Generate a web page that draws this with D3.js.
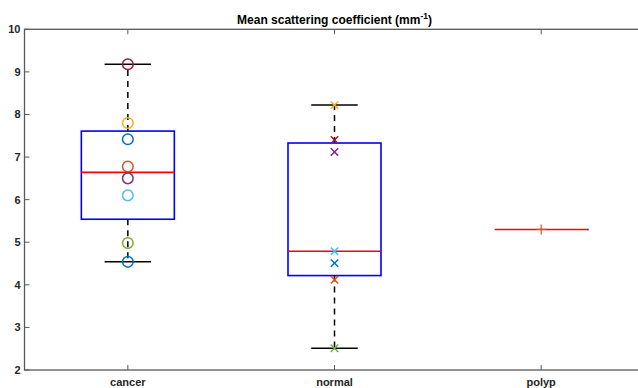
<!DOCTYPE html>
<html>
<head>
<meta charset="utf-8">
<script src="https://cdn.jsdelivr.net/npm/d3@7"></script>
<style>
  html, body { margin: 0; padding: 0; background: #fff; }
  svg { display: block; font-family: "Liberation Sans", Arial, Helvetica, sans-serif; }
</style>
</head>
<body>
<svg id="chart" width="638" height="388"></svg>
<script>
// Groups and their measurements (mean scattering coefficient, mm^-1)
const categories = ["cancer", "normal", "polyp"];
const cancerValues = [7.42, 6.78, 7.80, 6.50, 4.98, 6.10, 9.18, 4.54];
const normalValues = [4.51, 4.12, 8.22, 7.12, 2.51, 4.79, 7.40];
const polypValues = [5.30];
const groupValues = [cancerValues, normalValues, polypValues];
const groupMarkers = ["circle", "cross", "plus"];
const yTicks = [2, 3, 4, 5, 6, 7, 8, 9, 10];

// Default MATLAB line colour order
const colorOrder = ["#0072BD", "#D95319", "#EDB120", "#7E2F8E", "#77AC30", "#4DBEEE", "#A2142F"];

// Percentile with MATLAB's midpoint convention
function prctile(values, p) {
  const s = values.slice().sort((a, b) => a - b);
  const n = s.length;
  if (n === 1) return s[0];
  const pos = p * n + 0.5; // 1-based rank
  if (pos <= 1) return s[0];
  if (pos >= n) return s[n - 1];
  const lo = Math.floor(pos), f = pos - lo;
  return s[lo - 1] + f * (s[lo] - s[lo - 1]);
}

function boxStats(values) {
  const q1 = prctile(values, 0.25), med = prctile(values, 0.5), q3 = prctile(values, 0.75);
  const iqr = q3 - q1;
  const inRange = values.filter(v => v >= q1 - 1.5 * iqr && v <= q3 + 1.5 * iqr);
  return { q1, med, q3, lo: d3.min(inRange), hi: d3.max(inRange) };
}

const svg = d3.select("#chart");
const plot = { left: 24.5, right: 644.5, top: 29.3, bottom: 370 };

const x = d3.scaleLinear().domain([0.5, 3.5]).range([plot.left, plot.right]);
const y = d3.scaleLinear().domain([2, 10]).range([plot.bottom, plot.top]);

const axisColor = "#5a5a5a";
const textColor = "#262626";
const boxHalf = 0.225;
const capHalf = 0.1125;

// Axis frame
svg.append("rect")
  .attr("x", plot.left).attr("y", plot.top)
  .attr("width", plot.right - plot.left).attr("height", plot.bottom - plot.top)
  .attr("fill", "none").attr("stroke", axisColor).attr("stroke-width", 1.3);

// Inward tick marks
const tickLen = 5;
const ticks = svg.append("g").attr("stroke", axisColor).attr("stroke-width", 1);
categories.forEach((c, i) => {
  const px = x(i + 1);
  ticks.append("line").attr("x1", px).attr("x2", px).attr("y1", plot.bottom).attr("y2", plot.bottom - tickLen);
  ticks.append("line").attr("x1", px).attr("x2", px).attr("y1", plot.top).attr("y2", plot.top + tickLen);
});
yTicks.forEach(t => {
  ticks.append("line").attr("x1", plot.left).attr("x2", plot.left + tickLen).attr("y1", y(t)).attr("y2", y(t));
  ticks.append("line").attr("x1", plot.right).attr("x2", plot.right - tickLen).attr("y1", y(t)).attr("y2", y(t));
});

// Tick labels
svg.append("g").selectAll("text").data(yTicks).join("text")
  .attr("x", plot.left - 4).attr("y", d => y(d)).attr("dy", "0.36em")
  .attr("text-anchor", "end").attr("font-size", 11).attr("font-weight", "bold")
  .attr("fill", textColor).text(d => d);

svg.append("g").selectAll("text").data(categories).join("text")
  .attr("x", (d, i) => x(i + 1)).attr("y", 385.5)
  .attr("text-anchor", "middle").attr("font-size", 11).attr("font-weight", "bold")
  .attr("fill", textColor).text(d => d);

// Title
const title = svg.append("text")
  .attr("x", (plot.left + plot.right) / 2).attr("y", 23.5)
  .attr("text-anchor", "middle").attr("font-size", 12).attr("font-weight", "bold")
  .attr("fill", "#000");
title.append("tspan").text("Mean scattering coefficient (mm");
title.append("tspan").attr("font-size", 8.5).attr("dy", -4.5).text("-1");
title.append("tspan").attr("dy", 4.5).text(")");

// Box plots
const boxes = svg.append("g");
groupValues.forEach((vals, i) => {
  const s = boxStats(vals);
  const cx = i + 1;
  const g = boxes.append("g");
  // whiskers
  if (s.hi > s.q3) {
    g.append("line").attr("x1", x(cx)).attr("x2", x(cx)).attr("y1", y(s.q3)).attr("y2", y(s.hi))
      .attr("stroke", "#000").attr("stroke-width", 1.5).attr("stroke-dasharray", "6,5");
  }
  if (s.lo < s.q1) {
    g.append("line").attr("x1", x(cx)).attr("x2", x(cx)).attr("y1", y(s.q1)).attr("y2", y(s.lo))
      .attr("stroke", "#000").attr("stroke-width", 1.5).attr("stroke-dasharray", "6,5");
  }
  // caps (only where the whisker has length)
  if (s.hi > s.q3 || s.lo < s.q1) {
    [s.hi, s.lo].forEach(v => {
      g.append("line").attr("x1", x(cx - capHalf)).attr("x2", x(cx + capHalf)).attr("y1", y(v)).attr("y2", y(v))
        .attr("stroke", "#000").attr("stroke-width", 1.5);
    });
  }
  // box; a collapsed box only peeks out past the end of the median line
  if (s.q3 > s.q1) {
    g.append("rect")
      .attr("x", x(cx - boxHalf)).attr("y", y(s.q3))
      .attr("width", x(cx + boxHalf) - x(cx - boxHalf)).attr("height", y(s.q1) - y(s.q3))
      .attr("fill", "none").attr("stroke", "#0000FF").attr("stroke-width", 1.6);
  } else {
    g.append("line").attr("x1", x(cx + boxHalf) - 0.5).attr("x2", x(cx + boxHalf) + 1)
      .attr("y1", y(s.q1)).attr("y2", y(s.q1))
      .attr("stroke", "#0000FF").attr("stroke-width", 1.6);
  }
  // median
  g.append("line").attr("x1", x(cx - boxHalf)).attr("x2", x(cx + boxHalf)).attr("y1", y(s.med)).attr("y2", y(s.med))
    .attr("stroke", "#FF0000").attr("stroke-width", 1.6);
});

// Individual measurements
const pts = svg.append("g");
groupValues.forEach((vals, i) => {
  const cx = x(i + 1);
  const marker = groupMarkers[i];
  vals.forEach((v, j) => {
    const color = i === 2 ? colorOrder[1] : colorOrder[j % colorOrder.length];
    const cy = y(v);
    if (marker === "circle") {
      pts.append("circle").attr("cx", cx).attr("cy", cy).attr("r", 5.3)
        .attr("fill", "none").attr("stroke", color).attr("stroke-width", 1.5);
    } else if (marker === "cross") {
      const h = 3.7;
      pts.append("path")
        .attr("d", `M${cx - h},${cy - h}L${cx + h},${cy + h}M${cx - h},${cy + h}L${cx + h},${cy - h}`)
        .attr("stroke", color).attr("stroke-width", 1.5).attr("fill", "none");
    } else {
      const h = 5;
      pts.append("path")
        .attr("d", `M${cx - h},${cy}L${cx + h},${cy}M${cx},${cy - h}L${cx},${cy + h}`)
        .attr("stroke", color).attr("stroke-width", 1.2).attr("fill", "none");
    }
  });
});
</script>
</body>
</html>
